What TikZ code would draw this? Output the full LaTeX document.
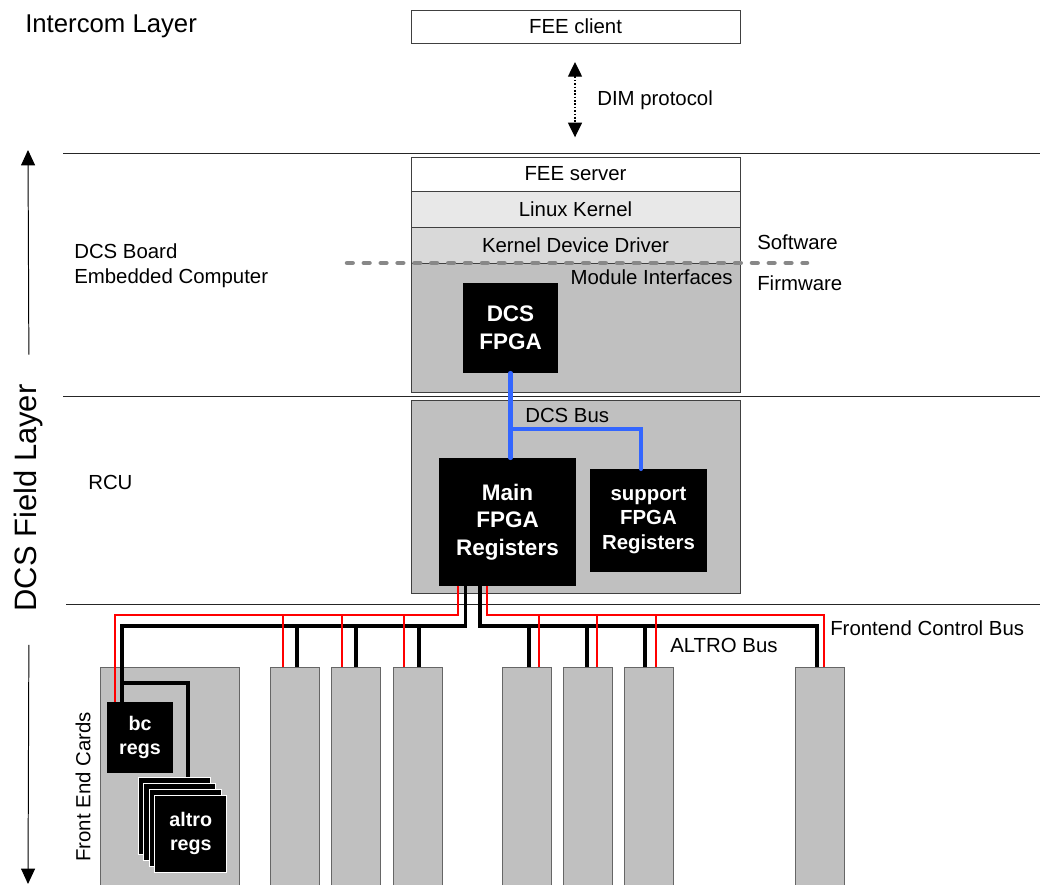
\documentclass[tikz,border=0pt]{standalone}
\usepackage{fontspec}
\setmainfont{Liberation Sans}
\usetikzlibrary{arrows.meta,calc}
\newcommand{\pxu}{0.025cm}
\definecolor{boxgray}{HTML}{C0C0C0}
\definecolor{kernelgray}{HTML}{E8E8E8}
\definecolor{drivergray}{HTML}{D9D9D9}
\definecolor{busblue}{HTML}{3366FF}
\definecolor{edgegray}{HTML}{404040}
\definecolor{dashgray}{HTML}{888888}

\begin{document}
\begin{tikzpicture}[x=\pxu,y=-\pxu,
    font=\fontsize{14.5}{17.5}\selectfont,
    pane/.style 2 args={draw=edgegray,line width=0.7pt,inner sep=0pt,outer sep=0pt,
      anchor=north west,minimum width=#1*\pxu,minimum height=#2*\pxu},
    card/.style={pane={49}{218},fill=boxgray,draw=edgegray!80},
    chip/.style={fill=black,text=white,align=center,inner sep=0pt,outer sep=0pt,
      anchor=north west,font=\bfseries\fontsize{16}{19.6}\selectfont},
    lbl/.style={anchor=west,inner sep=0pt},
    layerline/.style={line width=0.7pt,black!85},
    ctrl/.style={red,line width=1.3pt},
    altro/.style={black,line width=2.5pt},
    dcsbus/.style={busblue,line width=2.9pt,line cap=round},
    axis/.style={line width=0.7pt,-{Triangle[length=11pt,width=10pt]}},
    dimlink/.style={line width=1pt,dash pattern=on 1.2pt off 1.2pt,
      {Triangle[length=10.5pt,width=10pt]}-{Triangle[length=10.5pt,width=10pt]}},
    softfirm/.style={dashgray,line width=3.2pt,dash pattern=on 4pt off 8pt,line cap=round}]
  \useasboundingbox (0,0) rectangle (1040,885);

  % layers
  \draw[layerline] (63,153) -- (1040,153);
  \draw[layerline] (63,396) -- (1040,396);
  \draw[layerline] (66,604) -- (1040,604);
  \node[lbl,font=\fontsize{18.3}{22}\selectfont] (intercom) at (25,26) {Intercom Layer};
  \node[rotate=90,inner sep=0pt,font=\fontsize{22}{26}\selectfont] (field) at (29,498) {DCS Field Layer};
  \coordinate (axtop) at (28,150);
  \coordinate (axbot) at (28,884);
  \draw[axis,shorten <=21pt] (field.east) -- (axtop);
  \draw[axis,shorten <=23.5pt] (field.west) -- (axbot);
  \node[lbl,align=left,font=\fontsize{14.5}{17.8}\selectfont] (board) at (74,266) {DCS Board\\Embedded Computer};
  \node[lbl] (rculbl) at (88,482) {RCU};
  \node[rotate=90,inner sep=0pt] (felbl) at (83,787) {Front End Cards};

  % intercom
  \node[pane={329}{33},fill=white] (client) at (411,10) {FEE client};
  \draw[dimlink,shorten <=13.5pt,shorten >=14pt] (575,0 |- client.south) -- (575,157);
  \node[lbl] (dim) at (597,100) {DIM protocol};

  % DCS board
  \node[pane={329}{34},fill=white] (server) at (411,157) {FEE server};
  \node[pane={329}{36},fill=kernelgray] (kernel) at (411,191) {Linux Kernel};
  \node[pane={329}{36},fill=drivergray] (driver) at (411,227) {Kernel Device Driver};
  \node[pane={329}{129},fill=boxgray] (modules) at (411,263) {};
  \node[lbl,anchor=east] (modlbl) at (733,277) {Module Interfaces};
  \node[chip,minimum width=95*\pxu,minimum height=90*\pxu] (dcsfpga) at (463,283) {DCS\\FPGA};
  \draw[softfirm] (347,263) -- (807,263);
  \node[lbl] (soft) at (757,242) {Software};
  \node[lbl] (firm) at (757,283) {Firmware};

  % RCU
  \node[pane={329}{193},fill=boxgray] (rcu) at (411,400) {};
  \node[chip,minimum width=137*\pxu,minimum height=128*\pxu] (main) at (439,458) {Main\\FPGA\\Registers};
  \node[chip,font=\bfseries\fontsize{14.5}{17.4}\selectfont,minimum width=117*\pxu,
    minimum height=103*\pxu] (support) at (590,469) {support\\FPGA\\Registers};
  \node[lbl] (buslbl) at (525,415) {DCS Bus};
  \draw[dcsbus] (dcsfpga.south) -- (dcsfpga.south |- main.north);
  \draw[dcsbus] (dcsfpga.south |- 0,429) -| (641,0 |- support.north);

  % front end cards
  \node[pane={139}{218},fill=boxgray,draw=edgegray!80] (c1) at (100,667) {};
  \foreach \i/\x in {2/270,3/331,4/393,5/502,6/563,7/624,8/795}
    \node[card] (c\i) at (\x,667) {};
  \node[chip,font=\bfseries\fontsize{14}{17}\selectfont,minimum width=66*\pxu,
    minimum height=71*\pxu] (bc) at (107,702) {bc\\regs};
  \foreach \k in {0,...,3}
    \node[chip,draw=white,line width=0.7pt,minimum width=72*\pxu,minimum height=77*\pxu]
      (al\k) at ({138+5.6*\k},{777+6*\k}) {};
  \node[chip,anchor=center,fill=none,font=\bfseries\fontsize{14}{17.5}\selectfont] (altrotxt) at (al3.center) {altro\\regs};

  % buses
  \coordinate (ctrlrail) at (0,615);
  \coordinate (altrorail) at (0,626);
  \coordinate (fork) at (122,683);
  \node[lbl] (altrolbl) at (670,645) {ALTRO Bus};
  \node[lbl] (ctrllbl) at (830,628) {Frontend Control Bus};
  \draw[altro] (465.5,0 |- main.south) |- (122,0 |- altrorail) -- (122,0 |- bc.north);
  \draw[altro] (fork) -| (188,0 |- al0.north);
  \draw[altro] (480,0 |- main.south) |- (817,0 |- altrorail) -- (817,0 |- c8.north);
  \foreach \i/\b in {2/297,3/356,4/419,5/529,6/587,7/645}
    \draw[altro] (\b,0 |- altrorail) -- (\b,0 |- c\i.north);
  \draw[ctrl] (458,0 |- main.south) |- (115,0 |- ctrlrail) -- (115,0 |- bc.north);
  \draw[ctrl] (487,0 |- main.south) |- (824,0 |- ctrlrail) -- (824,0 |- c8.north);
  \foreach \i/\r in {2/283,3/342,4/404,5/539,6/597,7/656}
    \draw[ctrl] (\r,0 |- ctrlrail) -- (\r,0 |- c\i.north);
\end{tikzpicture}
\end{document}
